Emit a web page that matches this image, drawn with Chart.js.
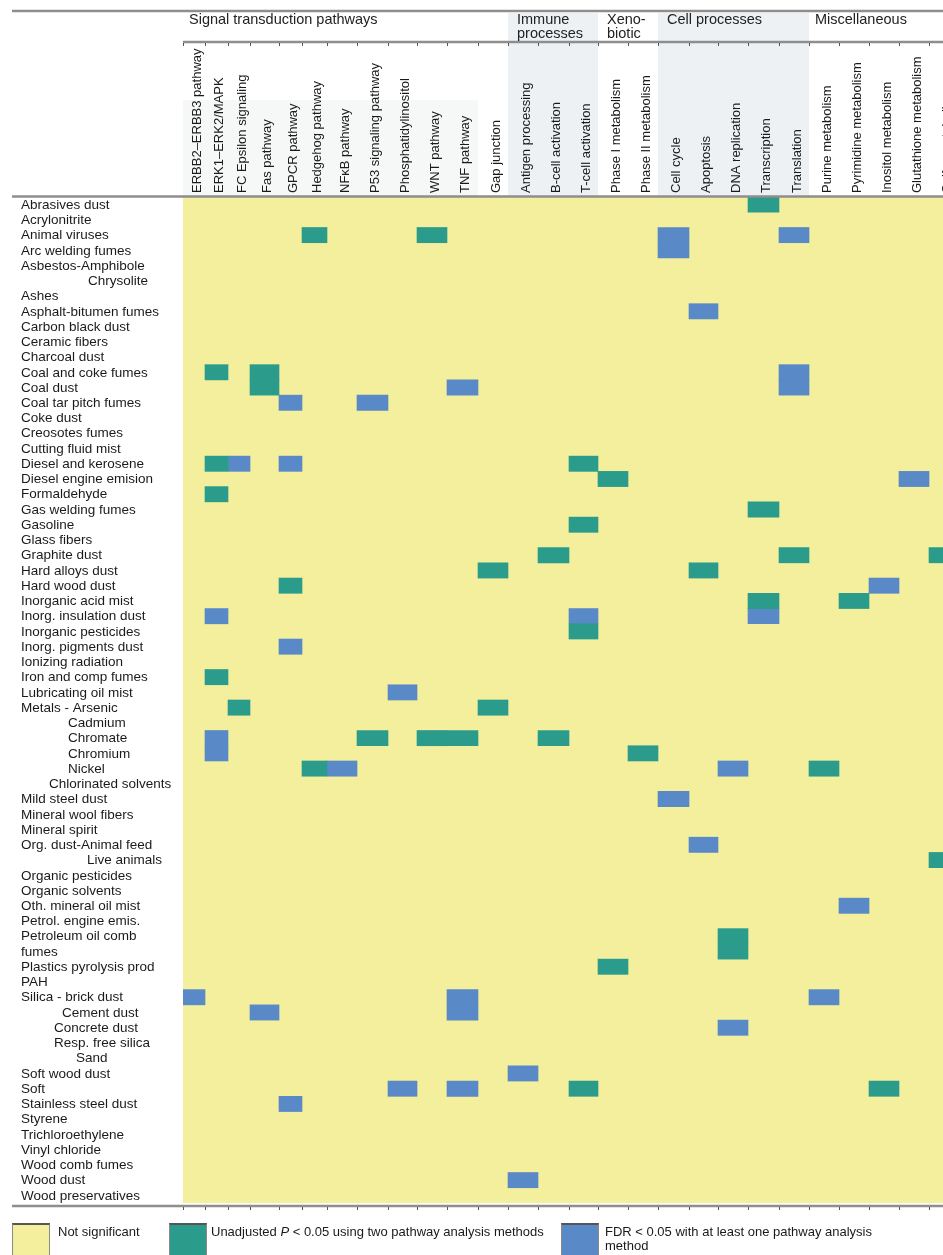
<!DOCTYPE html>
<html>
<head>
<meta charset="utf-8">
<title>Exposure pathway map</title>
<script src="https://cdn.jsdelivr.net/npm/chart.js@4.4.1/dist/chart.umd.min.js"></script>
<style>
	html, body { margin: 0; padding: 0; background: #fff; overflow: hidden; }
	#wrap { position: relative; width: 960px; height: 1255px; }
	.sw { position: absolute; top: 1223px; width: 38px; height: 34px; box-sizing: border-box;
		border: 1px solid #8a8a8a; border-top: 2px solid #555; }
	.key { position: absolute; top: 1225px; font: 13px "Liberation Sans", Arial, sans-serif;
		line-height: 14px; color: #1a1a1a; white-space: nowrap; }
</style>
</head>
<body>
<div id="wrap">
	<canvas id="heat-chartcanvas" width="960" height="1255"></canvas>
	<div class="sw" style="left:12px;background:#f3ef9d"></div>
	<div class="key" style="left:58px">Not significant</div>
	<div class="sw" style="left:169px;background:#2b9c8b"></div>
	<div class="key" style="left:211px">Unadjusted <i>P</i> &lt; 0.05 using two pathway analysis methods</div>
	<div class="sw" style="left:561px;background:#5a89c8"></div>
	<div class="key" style="left:605px">FDR &lt; 0.05 with at least one pathway analysis<br>method</div>
</div>
<script>
"use strict";

// pathways (columns), the last one is cut off by the page edge
const pathways = [
	"ERBB2–ERBB3 pathway", "ERK1–ERK2/MAPK", "FC Epsilon signaling", "Fas pathway",
	"GPCR pathway", "Hedgehog pathway", "NFκB pathway", "P53 signaling pathway",
	"Phosphatidylinositol", "WNT pathway", "TNF pathway", "Gap junction",
	"Antigen processing", "B-cell activation", "T-cell activation",
	"Phase I metabolism", "Phase II metabolism",
	"Cell cycle", "Apoptosis", "DNA replication", "Transcription", "Translation",
	"Purine metabolism", "Pyrimidine metabolism", "Inositol metabolism",
	"Glutathione metabolism", "Sulfur metabolism"
];

// pathway groups and how many columns each covers
const groupNames = [["Signal transduction pathways"], ["Immune", "processes"], ["Xeno-", "biotic"], ["Cell processes"], ["Miscellaneous"]];
const groupSizes = [12, 3, 2, 5, 5];

// exposures (rows). "Petroleum oil comb fumes" is wrapped over two rows
const exposures = [
	"Abrasives dust", "Acrylonitrite", "Animal viruses", "Arc welding fumes", "Asbestos-Amphibole",
	"Chrysolite", "Ashes", "Asphalt-bitumen fumes", "Carbon black dust", "Ceramic fibers",
	"Charcoal dust", "Coal and coke fumes", "Coal dust", "Coal tar pitch fumes", "Coke dust",
	"Creosotes fumes", "Cutting fluid mist", "Diesel and kerosene", "Diesel engine emision", "Formaldehyde",
	"Gas welding fumes", "Gasoline", "Glass fibers", "Graphite dust", "Hard alloys dust",
	"Hard wood dust", "Inorganic acid mist", "Inorg. insulation dust", "Inorganic pesticides", "Inorg. pigments dust",
	"Ionizing radiation", "Iron and comp fumes", "Lubricating oil mist", "Metals - Arsenic", "Cadmium",
	"Chromate", "Chromium", "Nickel", "Chlorinated solvents", "Mild steel dust",
	"Mineral wool fibers", "Mineral spirit", "Org. dust-Animal feed", "Live animals", "Organic pesticides",
	"Organic solvents", "Oth. mineral oil mist", "Petrol. engine emis.", "Petroleum oil comb", "fumes",
	"Plastics pyrolysis prod", "PAH", "Silica - brick dust", "Cement dust", "Concrete dust",
	"Resp. free silica", "Sand", "Soft wood dust", "Soft", "Stainless steel dust",
	"Styrene", "Trichloroethylene", "Vinyl chloride", "Wood comb fumes", "Wood dust",
	"Wood preservatives"
];

// unadjusted P < 0.05 with two methods  [exposure, pathway]
const unadjusted = [
	["Abrasives dust", "Transcription"],
	["Animal viruses", "Hedgehog pathway"], ["Animal viruses", "WNT pathway"],
	["Coal and coke fumes", "ERK1–ERK2/MAPK"], ["Coal and coke fumes", "Fas pathway"],
	["Coal dust", "Fas pathway"],
	["Diesel and kerosene", "ERK1–ERK2/MAPK"], ["Diesel and kerosene", "T-cell activation"],
	["Diesel engine emision", "Phase I metabolism"],
	["Formaldehyde", "ERK1–ERK2/MAPK"],
	["Gas welding fumes", "Transcription"],
	["Gasoline", "T-cell activation"],
	["Graphite dust", "B-cell activation"], ["Graphite dust", "Translation"], ["Graphite dust", "Sulfur metabolism"],
	["Hard alloys dust", "Gap junction"], ["Hard alloys dust", "Apoptosis"],
	["Hard wood dust", "GPCR pathway"],
	["Inorganic acid mist", "Transcription"], ["Inorganic acid mist", "Pyrimidine metabolism"],
	["Inorganic pesticides", "T-cell activation"],
	["Iron and comp fumes", "ERK1–ERK2/MAPK"],
	["Metals - Arsenic", "FC Epsilon signaling"], ["Metals - Arsenic", "Gap junction"],
	["Chromate", "P53 signaling pathway"], ["Chromate", "WNT pathway"], ["Chromate", "TNF pathway"], ["Chromate", "B-cell activation"],
	["Chromium", "Phase II metabolism"],
	["Nickel", "Hedgehog pathway"], ["Nickel", "Purine metabolism"],
	["Live animals", "Sulfur metabolism"],
	["Petroleum oil comb", "DNA replication"], ["fumes", "DNA replication"],
	["Plastics pyrolysis prod", "Phase I metabolism"],
	["Soft", "T-cell activation"], ["Soft", "Inositol metabolism"]
];

// FDR < 0.05 with at least one method  [exposure, pathway]
const fdr = [
	["Animal viruses", "Cell cycle"], ["Animal viruses", "Translation"],
	["Arc welding fumes", "Cell cycle"],
	["Asphalt-bitumen fumes", "Apoptosis"],
	["Coal and coke fumes", "Translation"],
	["Coal dust", "TNF pathway"], ["Coal dust", "Translation"],
	["Coal tar pitch fumes", "GPCR pathway"], ["Coal tar pitch fumes", "P53 signaling pathway"],
	["Diesel and kerosene", "FC Epsilon signaling"], ["Diesel and kerosene", "GPCR pathway"],
	["Diesel engine emision", "Glutathione metabolism"],
	["Hard wood dust", "Inositol metabolism"],
	["Inorg. insulation dust", "ERK1–ERK2/MAPK"], ["Inorg. insulation dust", "T-cell activation"], ["Inorg. insulation dust", "Transcription"],
	["Inorg. pigments dust", "GPCR pathway"],
	["Lubricating oil mist", "Phosphatidylinositol"],
	["Chromate", "ERK1–ERK2/MAPK"], ["Chromium", "ERK1–ERK2/MAPK"],
	["Nickel", "NFκB pathway"], ["Nickel", "DNA replication"],
	["Mild steel dust", "Cell cycle"],
	["Org. dust-Animal feed", "Apoptosis"],
	["Oth. mineral oil mist", "Pyrimidine metabolism"],
	["Silica - brick dust", "ERBB2–ERBB3 pathway"], ["Silica - brick dust", "TNF pathway"], ["Silica - brick dust", "Purine metabolism"],
	["Cement dust", "Fas pathway"], ["Cement dust", "TNF pathway"],
	["Concrete dust", "DNA replication"],
	["Soft wood dust", "Antigen processing"],
	["Soft", "Phosphatidylinositol"], ["Soft", "TNF pathway"],
	["Stainless steel dust", "GPCR pathway"],
	["Wood dust", "Antigen processing"]
];

// layout only: relative column widths and label indents
const colWidths = [22, 23, 22, 29, 23, 25, 30, 31, 29, 30, 31, 30,
	30, 31, 29, 30, 30, 31, 29, 30, 31, 30, 30, 30, 30, 30, 30];
const indents = {
	"Chrysolite": 67, "Cadmium": 47, "Chromate": 47, "Chromium": 47, "Nickel": 47,
	"Chlorinated solvents": 28, "Live animals": 66, "Cement dust": 41, "Concrete dust": 33,
	"Resp. free silica": 33, "Sand": 55
};
// rotated top labels are drawn left of their tick, push them back over the column
const labelShift = 19;

const FONT = '"Liberation Sans", Arial, Helvetica, sans-serif';
const YELLOW = "#f3ef9d", GREEN = "#2b9c8b", BLUE = "#5a89c8", RULE = "#8e8e8e";

let edges = [0];
colWidths.forEach(function(w) { edges.push(edges[edges.length - 1] + w); });
let centers = pathways.map(function(p, i) { return (edges[i] + edges[i + 1]) / 2; });

function toBars(list) {
	return list.map(function(cell) {
		let c = pathways.indexOf(cell[1]);
		return { y: cell[0], x: [edges[c], edges[c + 1]] };
	});
}

// header shading, rules, group titles and row names
let decor = {
	id: "decor",
	beforeDraw: function(chart) {
		let ctx = chart.ctx, xs = chart.scales.x, area = chart.chartArea;
		ctx.save();
		ctx.fillStyle = "#fff";
		ctx.fillRect(0, 0, chart.width, chart.height);
		// faint panel behind signal transduction labels
		ctx.fillStyle = "#f6f8f8";
		ctx.fillRect(xs.getPixelForValue(edges[0]), 100, xs.getPixelForValue(edges[11]) - xs.getPixelForValue(edges[0]), area.top - 100);
		let start = 0;
		groupSizes.forEach(function(n, g) {
			if (g == 1 || g == 3) {
				let x0 = xs.getPixelForValue(edges[start]), x1 = xs.getPixelForValue(edges[start + n]);
				ctx.fillStyle = "#eef1f3";
				ctx.fillRect(x0, 13, x1 - x0, area.top - 13);
			}
			start += n;
		});
		ctx.fillStyle = YELLOW;
		ctx.fillRect(area.left, area.top, area.right - area.left, area.bottom - area.top);
		ctx.restore();
	},
	afterDraw: function(chart) {
		let ctx = chart.ctx, xs = chart.scales.x, ys = chart.scales.y, area = chart.chartArea;
		ctx.save();
		// rules
		ctx.strokeStyle = RULE;
		ctx.lineWidth = 2.5;
		[[12, 11], [area.left, 42], [12, area.top - 0.5], [12, area.bottom + 3]].forEach(function(r) {
			ctx.beginPath();
			ctx.moveTo(r[0], r[1]);
			ctx.lineTo(chart.width, r[1]);
			ctx.stroke();
		});
		// little tick marks on the rules
		ctx.strokeStyle = "#555";
		ctx.lineWidth = 1;
		edges.forEach(function(e) {
			let x = Math.round(xs.getPixelForValue(e)) + 0.5;
			ctx.beginPath();
			ctx.moveTo(x, 43); ctx.lineTo(x, 46);
			ctx.moveTo(x, area.bottom + 4); ctx.lineTo(x, area.bottom + 7);
			ctx.stroke();
		});
		// group titles
		ctx.fillStyle = "#222";
		ctx.font = "14.5px " + FONT;
		ctx.textBaseline = "middle";
		ctx.textAlign = "left";
		let start = 0;
		groupSizes.forEach(function(n, g) {
			let x0 = xs.getPixelForValue(edges[start]) + (g == 0 || g == 4 ? 6 : 9);
			groupNames[g].forEach(function(line, k) {
				ctx.fillText(line, x0, 20 + k * 13.5);
			});
			start += n;
		});
		// row names
		ctx.font = "13.5px " + FONT;
		ctx.fillStyle = "#1a1a1a";
		exposures.forEach(function(name, i) {
			ctx.fillText(name, 21 + (indents[name] || 0), ys.getPixelForValue(i) + 0.5);
		});
		ctx.restore();
	}
};

let heatCtx = document.getElementById("heat-chartcanvas");
let heatChart = new Chart(heatCtx, {
	type: "bar",
	data: {
		labels: exposures,
		datasets: [
			{
				label: "Unadjusted P < 0.05 using two pathway analysis methods",
				data: toBars(unadjusted),
				backgroundColor: GREEN,
				borderWidth: 0,
				grouped: false,
				barPercentage: 1,
				categoryPercentage: 1
			},
			{
				label: "FDR < 0.05 with at least one pathway analysis method",
				data: toBars(fdr),
				backgroundColor: BLUE,
				borderWidth: 0,
				grouped: false,
				barPercentage: 1,
				categoryPercentage: 1
			}
		]
	},
	options: {
		indexAxis: "y",
		responsive: false,
		animation: false,
		devicePixelRatio: 1,
		layout: { padding: { left: 183, top: 42, bottom: 52, right: 1 } },
		scales: {
			x: {
				type: "linear",
				position: "top",
				min: 0,
				max: edges[edges.length - 1],
				grid: { display: false, drawTicks: false },
				border: { display: false },
				afterBuildTicks: function(scale) {
					scale.ticks = centers.map(function(v) { return { value: v + labelShift }; });
				},
				afterFit: function(scale) {
					scale.height = 155;
					scale.paddingLeft = 0;
					scale.paddingRight = 0;
				},
				ticks: {
					autoSkip: false,
					minRotation: 90,
					maxRotation: 90,
					padding: 4,
					color: "#1a1a1a",
					font: { family: FONT, size: 13 },
					callback: function(value, index) { return pathways[index]; }
				}
			},
			y: {
				type: "category",
				display: false
			}
		},
		plugins: {
			legend: { display: false },
			tooltip: { enabled: false }
		}
	},
	plugins: [decor]
});
</script>
</body>
</html>
